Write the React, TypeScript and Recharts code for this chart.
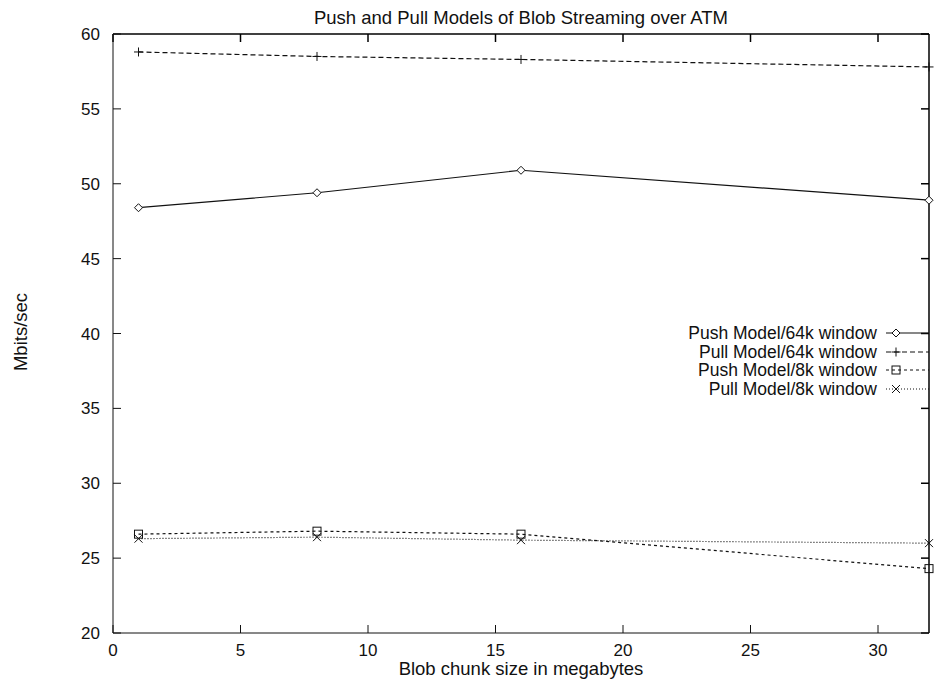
import * as R from 'recharts';
import { LineChart, Line, XAxis, YAxis, Legend, Customized } from 'recharts';

// blob chunk size (MB) on x, throughput (Mbits/sec) on y
const chunkSizes = [1, 8, 16, 32];
const push64k = [48.4, 49.4, 50.9, 48.9];
const pull64k = [58.8, 58.5, 58.3, 57.8];
const push8k = [26.6, 26.8, 26.6, 24.3];
const pull8k = [26.3, 26.4, 26.2, 26.0];

const xTicks = [0, 5, 10, 15, 20, 25, 30];
const yTicks = [20, 25, 30, 35, 40, 45, 50, 55, 60];
const xDomain = [0, 32];
const yDomain = [20, 60];

const data = chunkSizes.map((x, i) => ({
  x,
  push64: push64k[i],
  pull64: pull64k[i],
  push8: push8k[i],
  pull8: pull8k[i],
}));

const INK = '#111';
const FONT = '"Liberation Sans", Arial, Helvetica, sans-serif';

const Marker = ({ kind, cx, cy }: any) => {
  if (kind === 'diamond') {
    return <path d={`M${cx},${cy - 4}L${cx + 4},${cy}L${cx},${cy + 4}L${cx - 4},${cy}Z`} fill="#fff" stroke={INK} strokeWidth={1} />;
  }
  if (kind === 'plus') {
    return <path d={`M${cx - 4.5},${cy}H${cx + 4.5}M${cx},${cy - 4.5}V${cy + 4.5}`} stroke={INK} strokeWidth={1} fill="none" />;
  }
  if (kind === 'square') {
    return <rect x={cx - 4} y={cy - 4} width={8} height={8} fill="none" stroke={INK} strokeWidth={1} />;
  }
  return <path d={`M${cx - 4},${cy - 4}L${cx + 4},${cy + 4}M${cx - 4},${cy + 4}L${cx + 4},${cy - 4}`} stroke={INK} strokeWidth={1} fill="none" />;
};

const series = [
  { key: 'push64', name: 'Push Model/64k window', dash: undefined, marker: 'diamond' },
  { key: 'pull64', name: 'Pull Model/64k window', dash: '5 3', marker: 'plus' },
  { key: 'push8', name: 'Push Model/8k window', dash: '3 3', marker: 'square' },
  { key: 'pull8', name: 'Pull Model/8k window', dash: '1 2', marker: 'cross' },
];

const BottomTick = ({ x, y, payload }: any) => (
  <g>
    <line x1={x} x2={x} y1={y} y2={y - 8} stroke={INK} />
    <text x={x} y={y + 23} textAnchor="middle" fontSize={17} fill={INK} fontFamily={FONT}>{payload.value}</text>
  </g>
);

const LeftTick = ({ x, y, payload }: any) => (
  <g>
    <line x1={x} x2={x + 8} y1={y} y2={y} stroke={INK} />
    <text x={x - 13} y={y + 6} textAnchor="end" fontSize={17} fill={INK} fontFamily={FONT}>{payload.value}</text>
  </g>
);

// gnuplot-style box: top and right borders with inward mirrored ticks
const Frame = () => {
  const lib: any = R;
  const area = lib.usePlotArea ? lib.usePlotArea() : null;
  const xs: any = lib.useXAxisScale ? lib.useXAxisScale() : null;
  const ys: any = lib.useYAxisScale ? lib.useYAxisScale() : null;
  if (!area) return null;
  const top = area.y;
  const bottom = area.y + area.height;
  const left = area.x;
  const right = area.x + area.width;
  const px = (t: number) => {
    const v = typeof xs === 'function' ? xs(t) : NaN;
    return Number.isFinite(v) ? v : left + ((t - xDomain[0]) / (xDomain[1] - xDomain[0])) * area.width;
  };
  const py = (t: number) => {
    const v = typeof ys === 'function' ? ys(t) : NaN;
    return Number.isFinite(v) ? v : bottom - ((t - yDomain[0]) / (yDomain[1] - yDomain[0])) * area.height;
  };
  return (
    <g>
      <line x1={left} x2={right} y1={top} y2={top} stroke="#000" strokeWidth={1.5} />
      <line x1={right} x2={right} y1={top} y2={bottom} stroke="#000" strokeWidth={1.5} />
      {xTicks.map((t) => (
        <line key={`tx${t}`} x1={px(t)} x2={px(t)} y1={top} y2={top + 8} stroke="#000" strokeWidth={1.5} />
      ))}
      {yTicks.map((t) => (
        <line key={`ty${t}`} x1={right} x2={right - 8} y1={py(t)} y2={py(t)} stroke="#000" strokeWidth={1.5} />
      ))}
    </g>
  );
};

const LegendBox = () => (
  <div style={{ fontFamily: FONT, fontSize: 17.5, color: INK }}>
    {series.map((s) => (
      <div key={s.key} style={{ display: 'flex', justifyContent: 'flex-end', alignItems: 'center', height: 18.5, overflow: 'visible' }}>
        <span style={{ display: 'inline-block', height: 18, lineHeight: '18px' }}>{s.name}</span>
        <svg width={52} height={18} style={{ display: 'block' }}>
          <line x1={9} x2={52} y1={9} y2={9} stroke={INK} strokeWidth={1.2} strokeDasharray={s.dash} />
          <Marker kind={s.marker} cx={19} cy={9} />
        </svg>
      </div>
    ))}
  </div>
);

const Texts = () => (
  <g fontFamily={FONT} fill={INK}>
    <text x={521} y={24} textAnchor="middle" fontSize={18.5}>Push and Pull Models of Blob Streaming over ATM</text>
    <text x={521} y={675} textAnchor="middle" fontSize={18.5}>Blob chunk size in megabytes</text>
    <text x={27} y={332} textAnchor="middle" fontSize={18.5} transform="rotate(-90 27 332)">Mbits/sec</text>
  </g>
);

export default function App() {
  return (
    <div style={{ position: 'absolute', left: 0, top: 0, background: '#fff' }}>
      <LineChart width={939} height={680} data={data} margin={{ top: 34, right: 10, bottom: 0, left: 0 }}>
        <XAxis
          dataKey="x"
          type="number"
          domain={xDomain}
          ticks={xTicks}
          height={47}
          tickSize={0}
          tickMargin={0}
          tickLine={false}
          tick={<BottomTick />}
          axisLine={{ stroke: INK }}
        />
        <YAxis
          type="number"
          domain={yDomain}
          ticks={yTicks}
          width={113}
          tickSize={0}
          tickMargin={0}
          tickLine={false}
          tick={<LeftTick />}
          axisLine={{ stroke: INK }}
        />
        {series.map((s) => (
          <Line
            key={s.key}
            dataKey={s.key}
            name={s.name}
            type="linear"
            stroke={INK}
            strokeWidth={1.2}
            strokeDasharray={s.dash}
            isAnimationActive={false}
            dot={(p: any) => <Marker key={`${s.key}-${p.index}`} kind={s.marker} cx={p.cx} cy={p.cy} />}
            activeDot={false}
          />
        ))}
        <Legend
          layout="vertical"
          align="center"
          verticalAlign="middle"
          content={<LegendBox />}
          wrapperStyle={{ left: 329, top: 324, width: 600, height: 'auto' }}
        />
        <Customized component={<Frame />} />
        <Customized component={<Texts />} />
      </LineChart>
    </div>
  );
}
